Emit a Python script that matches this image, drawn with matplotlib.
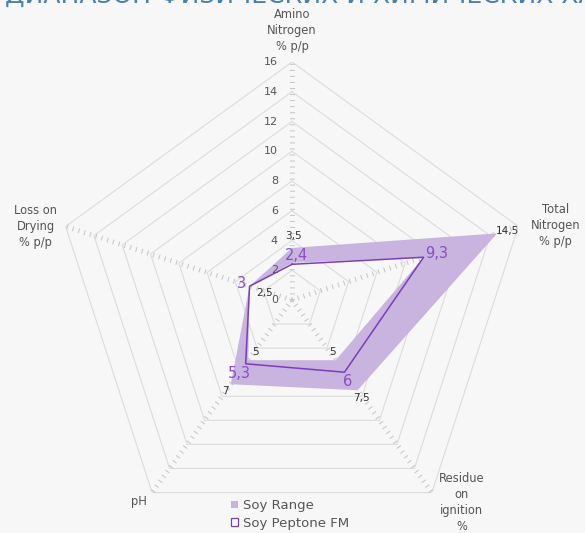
import numpy as np
import matplotlib.pyplot as plt
from matplotlib.patches import Patch

plt.rcParams['font.family'] = ['DejaVu Sans']
plt.rcParams['lines.scale_dashes'] = False

# Données
titre = "ДИАПАЗОН ФИЗИЧЕСКИХ И ХИМИЧЕСКИХ ХАРАКТЕРИСТИК"
categories = ["Amino\nNitrogen\n% p/p", "Total\nNitrogen\n% p/p",
              "Residue\non\nignition\n%", "pH", "Loss on\nDrying\n% p/p"]
soy_low = [2.5, 9.3, 5, 5, 3]
soy_high = [3.5, 14.5, 7.5, 7, 3]
peptone = [2.4, 9.3, 6, 5.3, 3]
r_ticks = [0, 2, 4, 6, 8, 10, 12, 14, 16]
show_high = [True, True, True, True, False]
show_low = [True, False, True, True, False]
series_names = ["Soy Range", "Soy Peptone FM"]

# Styles
fond = '#f7f7f7'
c_fill = '#c8b4de'
c_line = '#7b3db8'
c_lab = '#8b4ec1'
c_txt = '#555555'
px = 0.72  # pixels -> points

fig = plt.figure(figsize=(5.85, 5.33), dpi=100, facecolor=fond)
ax = fig.add_axes([54 / 585, -5 / 533, 476 / 585, 476 / 533], projection='polar')
ax.set_facecolor('none')
ax.set_ylim(0, 16)
ax.grid(False)
ax.spines['polar'].set_visible(False)
ax.set_xticks([])
ax.set_yticks([])

n = len(categories)
theta = np.pi / 2 - np.arange(n) * 2 * np.pi / n
th_closed = np.append(theta, theta[0])

def ferme(vals):
    return np.append(vals, vals[0])

# grille pentagonale
for r in r_ticks[1:]:
    ax.plot(th_closed, [r] * (n + 1), color='#dcdcdc', lw=0.8, zorder=1)
for t in theta:
    ax.plot([t, t], [0, r_ticks[-1]], color='#c8c8c8', lw=3.6,
            dashes=(0.75, 3.6), zorder=1)

# étiquettes de l'axe radial
for r in r_ticks:
    ax.annotate(str(r), xy=(theta[0], r), xytext=(-14 * px, 0),
                textcoords='offset points', ha='right', va='center',
                fontsize=8, color=c_txt)

# zone Soy Range
t_area = np.concatenate([th_closed, th_closed[::-1]])
r_area = np.concatenate([ferme(soy_high), ferme(soy_low)[::-1]])
ax.fill(t_area, r_area, color=c_fill, lw=0, zorder=2)

# ligne Soy Peptone FM
ax.plot(th_closed, ferme(peptone), color=c_line, lw=1.1, zorder=3)

def fmt(v):
    return f"{v:g}".replace('.', ',')

off_pep = [(4, -9), (13, -4), (3, 9), (-6, 10), (-8, -3)]
off_high = [(1, -12), (10, -2), (4, 8), (-5, 7), (0, 0)]
off_low = [(-27, 30), (0, 0), (-3, -8), (7, -8), (0, 0)]

for i in range(n):
    dx, dy = off_pep[i]
    ax.annotate(fmt(peptone[i]), xy=(theta[i], peptone[i]),
                xytext=(dx * px, -dy * px), textcoords='offset points',
                ha='center', va='center', fontsize=10.5, color=c_lab, zorder=5)
    if show_high[i]:
        dx, dy = off_high[i]
        ax.annotate(fmt(soy_high[i]), xy=(theta[i], soy_high[i]),
                    xytext=(dx * px, -dy * px), textcoords='offset points',
                    ha='center', va='center', fontsize=7.5, color='#333333', zorder=5)
    if show_low[i]:
        dx, dy = off_low[i]
        ax.annotate(fmt(soy_low[i]), xy=(theta[i], soy_low[i]),
                    xytext=(dx * px, -dy * px), textcoords='offset points',
                    ha='center', va='center', fontsize=7.5, color='#333333', zorder=5)

# noms des axes
off_cat = [(0, -32), (37, -1), (30, 10), (-13, 9), (-30, 0)]
for i in range(n):
    dx, dy = off_cat[i]
    ax.annotate(categories[i], xy=(theta[i], r_ticks[-1]),
                xytext=(dx * px, -dy * px), textcoords='offset points',
                ha='center', va='center', fontsize=8.3, color=c_txt,
                linespacing=1.3)

# titre (coupé en haut)
fig.text(5 / 585, 1 - 3 / 533, titre, fontsize=18, color='#4a80b0',
         ha='left', va='baseline')

# légende
handles = [Patch(facecolor=c_fill, edgecolor='none'),
           Patch(facecolor='white', edgecolor=c_line, lw=0.9)]
fig.legend(handles, series_names, loc='upper left',
           bbox_to_anchor=(231 / 585, 1 - 499 / 533), frameon=False,
           fontsize=9.5, handlelength=0.5, handleheight=0.5,
           handletextpad=0.4, labelspacing=0.35, borderpad=0,
           borderaxespad=0, labelcolor=c_txt)

fig.savefig('out.png', dpi=100, facecolor=fond)
